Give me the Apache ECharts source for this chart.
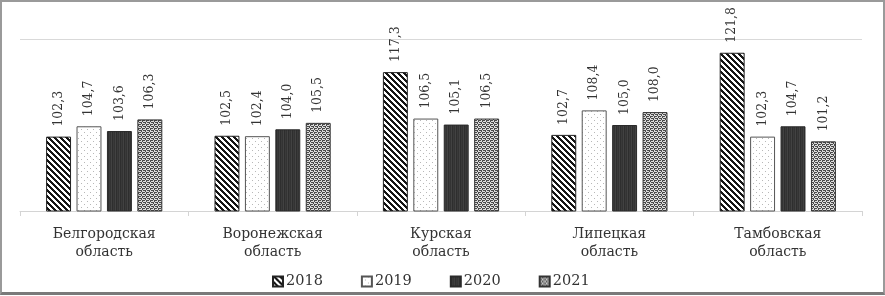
<!DOCTYPE html>
<html>
<head>
<meta charset="utf-8">
<script src="https://cdn.jsdelivr.net/npm/echarts@6/dist/echarts.min.js"></script>
<style>
html,body{margin:0;padding:0;background:#fff;}
#wrap{position:relative;width:885px;height:296px;}
#chart{position:absolute;left:0;top:0;width:885px;height:296px;}
#frame{position:absolute;left:0;top:0;width:885px;height:295px;box-sizing:border-box;border:2px solid #9a9a9a;border-bottom:3px solid #7a7a7a;pointer-events:none;}
</style>
</head>
<body>
<div id="wrap"><div id="chart"></div><div id="frame"></div></div>
<script>
const categories = ['Белгородская\nобласть', 'Воронежская\nобласть', 'Курская\nобласть', 'Липецкая\nобласть', 'Тамбовская\nобласть'];
const seriesNames = ['2018', '2019', '2020', '2021'];
const v2018 = [102.3, 102.5, 117.3, 102.7, 121.8];
const v2019 = [104.7, 102.4, 106.5, 108.4, 102.3];
const v2020 = [103.6, 104.0, 105.1, 105.0, 104.7];
const v2021 = [106.3, 105.5, 106.5, 108.0, 101.2];
const yMin = 85, yMax = 125;

function tile(size, fn) {
  const c = document.createElement('canvas');
  c.width = size; c.height = size;
  const ctx = c.getContext('2d');
  for (let y = 0; y < size; y++) for (let x = 0; x < size; x++) {
    ctx.fillStyle = fn(x, y);
    ctx.fillRect(x, y, 1, 1);
  }
  return { image: c, repeat: 'repeat' };
}
const mask2021 = ['0100', '1101', '0010', '1011'];
const pat2018 = tile(6, (x, y) => (((x - y) % 6 + 6) % 6) < 3 ? '#151515' : '#fff');
const pat2019 = tile(6, (x, y) => ((x === 0 && y === 0) || (x === 3 && y === 3)) ? '#b8b8b8' : '#fff');
const pat2020 = tile(4, (x, y) => ['#2e2e2e', '#3a3a3a', '#333', '#424242'][x]);
const pat2021 = tile(4, (x, y) => mask2021[y][x] === '1' ? '#dcdcdc' : '#4a4a4a');
const patterns = [pat2018, pat2019, pat2020, pat2021];
const borders = ['#222', '#555', '#2a2a2a', '#333'];
const values = [v2018, v2019, v2020, v2021];

const font = 'DejaVu Serif';
const chart = echarts.init(document.getElementById('chart'));
chart.setOption({
  animation: false,
  backgroundColor: '#fff',
  grid: { left: 20, right: 23, top: 39, bottom: 85 },
  legend: {
    data: seriesNames,
    top: 269,
    left: 267,
    itemWidth: 10, itemHeight: 10, itemGap: 38,
    icon: 'rect',
    textStyle: { fontFamily: font, fontSize: 14.5, color: '#333', padding: [0, 0, 0, -2] }
  },
  xAxis: {
    type: 'category',
    data: categories,
    axisLine: { lineStyle: { color: '#d4d4d4', width: 1 } },
    axisTick: { show: true, length: 5, lineStyle: { color: '#d4d4d4' } },
    axisLabel: { fontFamily: font, fontSize: 14, lineHeight: 18, color: '#333', margin: 14 }
  },
  yAxis: {
    type: 'value', min: yMin, max: yMax, interval: yMax - yMin,
    axisLabel: { show: false }, axisLine: { show: false }, axisTick: { show: false },
    splitLine: { lineStyle: { color: '#d9d9d9' } }
  },
  series: seriesNames.map((n, i) => ({
    name: n,
    type: 'bar',
    data: values[i],
    barGap: '22%',
    barCategoryGap: '31%',
    itemStyle: { color: patterns[i], borderColor: borders[i], borderWidth: 1 },
    label: {
      show: true, position: 'top', rotate: 90, align: 'left', verticalAlign: 'middle',
      distance: 10, fontFamily: font, fontSize: 12.5, color: '#333',
      formatter: p => p.value.toFixed(1).replace('.', ',')
    }
  }))
});
</script>
</body>
</html>
